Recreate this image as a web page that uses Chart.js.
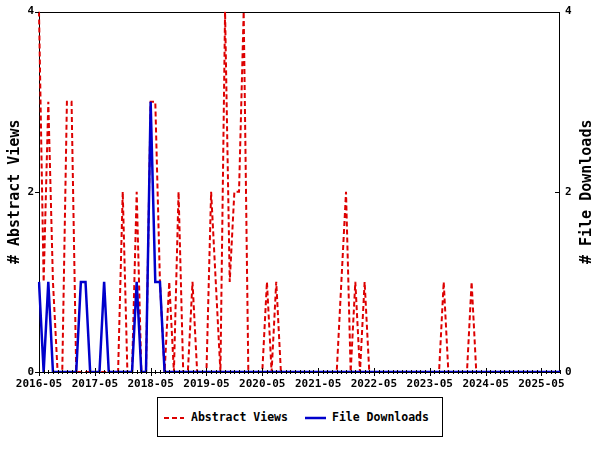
<!DOCTYPE html>
<html>
<head>
<meta charset="utf-8">
<script src="https://cdn.jsdelivr.net/npm/chart.js@4/dist/chart.umd.min.js"></script>
<style>
  html, body { margin:0; padding:0; background:#fff; }
  #wrap { position:relative; width:600px; height:450px; }
  #c { position:absolute; left:0; top:0; }
  #legend {
    position:absolute; left:157px; top:397px; width:284px; height:38px;
    border:1px solid #000; background:#fff;
    font: bold 11.5px "DejaVu Sans Mono", monospace; color:#000;
  }
  #legend .it { position:absolute; top:0; height:38px; line-height:38px; white-space:nowrap; }
  #legend svg { position:absolute; top:18px; }
</style>
</head>
<body>
<div id="wrap">
  <canvas id="c" width="600" height="450"></canvas>
  <div id="legend">
    <svg style="left:5px" width="22" height="4"><line x1="1" y1="2" x2="21" y2="2" stroke="#dd0000" stroke-width="2" stroke-dasharray="5,3"/></svg>
    <span class="it" style="left:33px">Abstract Views</span>
    <svg style="left:147px" width="22" height="4"><line x1="0" y1="2" x2="21" y2="2" stroke="#0000cc" stroke-width="2.5"/></svg>
    <span class="it" style="left:174px">File Downloads</span>
  </div>
</div>
<script>
// months 2016-05 .. 2025-09
const START_YEAR = 2016, START_MONTH = 5, N_MONTHS = 113;
const months = [];
for (let i = 0; i < N_MONTHS; i++) {
  const m = START_MONTH - 1 + i;
  const y = START_YEAR + Math.floor(m / 12);
  months.push(y + "-" + String(m % 12 + 1).padStart(2, "0"));
}
const tickLabels = ["2016-05","2017-05","2018-05","2019-05","2020-05","2021-05","2022-05","2023-05","2024-05","2025-05"];

// Abstract Views (left axis)
const views = [
  4,1,3,1,0,0,3,3,0,0,0,0,
  0,0,0,0,0,0,2,0,0,2,0,0,
  3,3,1,0,1,0,2,0,0,1,0,0,
  0,2,1,0,4,1,2,2,4,0,0,0,
  0,1,0,1,0,0,0,0,0,0,0,0,
  0,0,0,0,0,1,2,0,1,0,1,0,
  0,0,0,0,0,0,0,0,0,0,0,0,
  0,0,0,1,0,0,0,0,0,1,0,0,
  0,0,0,0,0,0,0,0,0,0,0,0,
  0,0,0,0,0
];
// File Downloads (right axis)
const downloads = [
  1,0,1,0,0,0,0,0,0,1,1,0,
  0,0,1,0,0,0,0,0,0,1,0,0,
  3,1,1,0,0,0,0,0,0,0,0,0,
  0,0,0,0,0,0,0,0,0,0,0,0,
  0,0,0,0,0,0,0,0,0,0,0,0,
  0,0,0,0,0,0,0,0,0,0,0,0,
  0,0,0,0,0,0,0,0,0,0,0,0,
  0,0,0,0,0,0,0,0,0,0,0,0,
  0,0,0,0,0,0,0,0,0,0,0,0,
  0,0,0,0,0
];
const yTicks = [0, 2, 4];

const FONT = "'DejaVu Sans Mono', monospace";

// marco, marcas de ejes y títulos verticales
const decor = {
  id: "decor",
  beforeDatasetsDraw(chart){
    const {ctx, chartArea:a} = chart;
    ctx.save();
    ctx.strokeStyle = "#000";
    ctx.lineWidth = 1;
    ctx.strokeRect(Math.round(a.left)+0.5, Math.round(a.top)+0.5, Math.round(a.right-a.left)-1, Math.round(a.bottom-a.top));
    ctx.restore();
  },
  afterDatasetsDraw(chart){
    const {ctx, chartArea:a, scales} = chart;
    ctx.save();
    ctx.strokeStyle = "#000";
    ctx.lineWidth = 1;
    ctx.beginPath();
    yTicks.forEach(v => {
      const yl = Math.round(scales.yL.getPixelForValue(v)) + 0.5;
      ctx.moveTo(a.left - 4, yl); ctx.lineTo(a.left, yl);
      const yr = Math.round(scales.yR.getPixelForValue(v)) + 0.5;
      ctx.moveTo(a.right - 5, yr); ctx.lineTo(a.right, yr);
    });
    for (let i = 0; i < months.length; i++){
      const x = Math.round(scales.x.getPixelForValue(i)) + 0.5;
      const major = tickLabels.includes(months[i]);
      ctx.moveTo(x, a.bottom - (major ? 4 : 2));
      ctx.lineTo(x, a.bottom + (major ? 4 : 2));
    }
    ctx.stroke();

    ctx.fillStyle = "#000";
    ctx.font = "bold 15px " + FONT;
    ctx.textAlign = "center";
    ctx.textBaseline = "middle";
    const cy = (a.top + a.bottom) / 2;
    [[15, "# Abstract Views"], [587, "# File Downloads"]].forEach(([x, t]) => {
      ctx.save();
      ctx.translate(x, cy);
      ctx.rotate(-Math.PI / 2);
      ctx.fillText(t, 0, 0);
      ctx.restore();
    });
    ctx.restore();
  }
};

const tickFont = { family: FONT, size: 11, weight: "bold" };

new Chart(document.getElementById("c").getContext("2d"), {
  type: "line",
  data: {
    labels: months,
    datasets: [
      {
        label: "Abstract Views",
        data: views,
        yAxisID: "yL",
        borderColor: "#dd0000",
        borderWidth: 2,
        borderDash: [5, 3],
        pointRadius: 0,
        tension: 0,
        fill: false,
        order: 1
      },
      {
        label: "File Downloads",
        data: downloads,
        yAxisID: "yR",
        borderColor: "#0000cc",
        borderWidth: 2.5,
        pointRadius: 0,
        tension: 0,
        fill: false,
        order: 0
      }
    ]
  },
  options: {
    responsive: false,
    animation: false,
    devicePixelRatio: 1,
    layout: { padding: { top: 10, left: 0, right: 0, bottom: 0 } },
    plugins: { legend: { display: false }, tooltip: { enabled: false } },
    scales: {
      x: {
        type: "category",
        offset: false,
        grid: { display: false, drawTicks: false },
        border: { display: false },
        ticks: {
          autoSkip: false, maxRotation: 0, minRotation: 0, padding: 6,
          color: "#000", font: tickFont,
          callback: (v, i) => tickLabels.includes(months[i]) ? months[i] : ""
        },
        afterFit: s => { s.height = 78; }
      },
      yL: {
        position: "left", min: 0, max: 4,
        grid: { display: false, drawTicks: false },
        border: { display: false },
        ticks: { stepSize: 2, padding: 5, color: "#000", font: tickFont },
        afterFit: s => { s.width = 39; }
      },
      yR: {
        position: "right", min: 0, max: 4,
        grid: { display: false, drawTicks: false },
        border: { display: false },
        ticks: { stepSize: 2, padding: 5, color: "#000", font: tickFont },
        afterFit: s => { s.width = 40; }
      }
    }
  },
  plugins: [decor]
});
</script>
</body>
</html>
